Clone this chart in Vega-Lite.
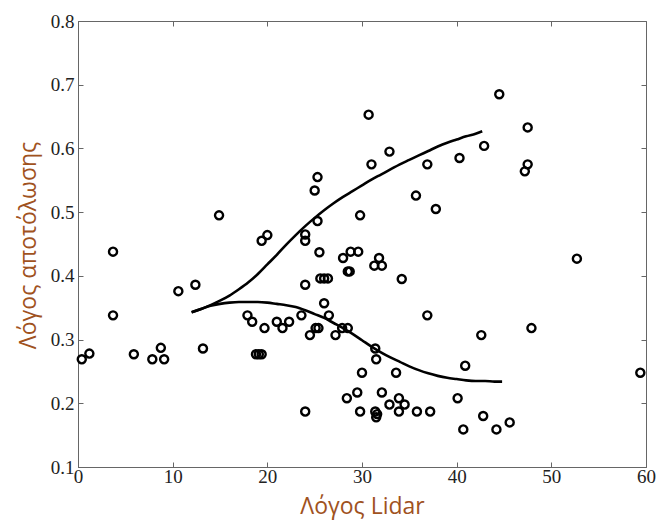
{
  "$schema": "https://vega.github.io/schema/vega-lite/v6.json",
  "autosize": "none",
  "width": 568,
  "height": 446,
  "padding": {"left": 78, "top": 21, "right": 12, "bottom": 54},
  "background": "white",
  "config": {
    "view": {"stroke": "#666", "strokeWidth": 1},
    "axis": {
      "grid": false,
      "domainColor": "#666",
      "tickColor": "#666",
      "labelFont": "Liberation Serif",
      "labelFontSize": 19,
      "labelColor": "#222",
      "titleFont": "Open Sans",
      "titleFontSize": 23,
      "titleFontWeight": "normal",
      "titleColor": "#a0521e"
    }
  },
  "datasets": {
    "pts": [
      {"x": 0.4, "y": 0.269}, {"x": 1.2, "y": 0.278}, {"x": 3.7, "y": 0.438}, {"x": 3.7, "y": 0.338},
      {"x": 5.9, "y": 0.277}, {"x": 7.85, "y": 0.269}, {"x": 8.75, "y": 0.287}, {"x": 9.1, "y": 0.269},
      {"x": 10.6, "y": 0.376}, {"x": 12.4, "y": 0.386}, {"x": 13.2, "y": 0.286}, {"x": 14.9, "y": 0.495},
      {"x": 17.9, "y": 0.338}, {"x": 18.4, "y": 0.328}, {"x": 18.8, "y": 0.277}, {"x": 19.1, "y": 0.277},
      {"x": 19.4, "y": 0.277}, {"x": 19.7, "y": 0.318}, {"x": 19.4, "y": 0.455}, {"x": 20.0, "y": 0.464},
      {"x": 21.0, "y": 0.328}, {"x": 21.6, "y": 0.318}, {"x": 22.3, "y": 0.328}, {"x": 23.6, "y": 0.338},
      {"x": 24.0, "y": 0.386}, {"x": 24.0, "y": 0.187}, {"x": 24.0, "y": 0.455}, {"x": 24.0, "y": 0.465},
      {"x": 24.5, "y": 0.307}, {"x": 25.1, "y": 0.318}, {"x": 25.4, "y": 0.318}, {"x": 25.5, "y": 0.437},
      {"x": 26.0, "y": 0.357}, {"x": 25.6, "y": 0.396}, {"x": 26.0, "y": 0.396}, {"x": 26.4, "y": 0.396},
      {"x": 26.5, "y": 0.338}, {"x": 27.2, "y": 0.307}, {"x": 28.0, "y": 0.428}, {"x": 28.5, "y": 0.407},
      {"x": 28.7, "y": 0.407}, {"x": 27.9, "y": 0.318}, {"x": 28.5, "y": 0.318}, {"x": 28.8, "y": 0.438},
      {"x": 29.6, "y": 0.438}, {"x": 28.4, "y": 0.208}, {"x": 29.5, "y": 0.217}, {"x": 30.0, "y": 0.248},
      {"x": 29.8, "y": 0.187}, {"x": 25.0, "y": 0.534}, {"x": 25.3, "y": 0.555}, {"x": 25.3, "y": 0.486},
      {"x": 29.8, "y": 0.495}, {"x": 30.7, "y": 0.653}, {"x": 31.0, "y": 0.575}, {"x": 32.9, "y": 0.595},
      {"x": 35.7, "y": 0.526}, {"x": 36.9, "y": 0.575}, {"x": 37.8, "y": 0.505}, {"x": 40.3, "y": 0.585},
      {"x": 42.9, "y": 0.604}, {"x": 44.5, "y": 0.685}, {"x": 47.5, "y": 0.633}, {"x": 47.5, "y": 0.575},
      {"x": 47.2, "y": 0.564}, {"x": 31.8, "y": 0.428}, {"x": 31.3, "y": 0.416}, {"x": 32.1, "y": 0.416},
      {"x": 34.2, "y": 0.395}, {"x": 36.9, "y": 0.338}, {"x": 42.6, "y": 0.307}, {"x": 47.9, "y": 0.318},
      {"x": 52.7, "y": 0.427}, {"x": 59.4, "y": 0.248}, {"x": 31.4, "y": 0.286}, {"x": 31.5, "y": 0.269},
      {"x": 33.6, "y": 0.248}, {"x": 40.9, "y": 0.259}, {"x": 32.1, "y": 0.217}, {"x": 32.9, "y": 0.198},
      {"x": 33.9, "y": 0.208}, {"x": 34.5, "y": 0.198}, {"x": 33.9, "y": 0.187}, {"x": 31.4, "y": 0.187},
      {"x": 31.5, "y": 0.178}, {"x": 31.6, "y": 0.183}, {"x": 35.8, "y": 0.187}, {"x": 37.2, "y": 0.187},
      {"x": 40.1, "y": 0.208}, {"x": 40.7, "y": 0.159}, {"x": 42.8, "y": 0.180}, {"x": 44.2, "y": 0.159},
      {"x": 45.6, "y": 0.170}
    ],
    "curves": [
      {"c": "up", "x": 12, "y": 0.343}, {"c": "up", "x": 13, "y": 0.348}, {"c": "up", "x": 14, "y": 0.354},
      {"c": "up", "x": 15, "y": 0.361}, {"c": "up", "x": 16, "y": 0.369}, {"c": "up", "x": 17, "y": 0.379},
      {"c": "up", "x": 18, "y": 0.390}, {"c": "up", "x": 19, "y": 0.403}, {"c": "up", "x": 20, "y": 0.418},
      {"c": "up", "x": 21, "y": 0.433}, {"c": "up", "x": 22, "y": 0.449}, {"c": "up", "x": 23, "y": 0.464},
      {"c": "up", "x": 24, "y": 0.478}, {"c": "up", "x": 25, "y": 0.491}, {"c": "up", "x": 26, "y": 0.503},
      {"c": "up", "x": 27, "y": 0.514}, {"c": "up", "x": 28, "y": 0.524}, {"c": "up", "x": 29, "y": 0.533},
      {"c": "up", "x": 30, "y": 0.542}, {"c": "up", "x": 31, "y": 0.551}, {"c": "up", "x": 32, "y": 0.559},
      {"c": "up", "x": 33, "y": 0.567}, {"c": "up", "x": 34, "y": 0.575}, {"c": "up", "x": 35, "y": 0.582},
      {"c": "up", "x": 36, "y": 0.589}, {"c": "up", "x": 37, "y": 0.596}, {"c": "up", "x": 38, "y": 0.603},
      {"c": "up", "x": 39, "y": 0.609}, {"c": "up", "x": 40, "y": 0.614}, {"c": "up", "x": 41, "y": 0.619},
      {"c": "up", "x": 42, "y": 0.623}, {"c": "up", "x": 42.7, "y": 0.627},
      {"c": "lo", "x": 12, "y": 0.343}, {"c": "lo", "x": 13, "y": 0.348}, {"c": "lo", "x": 14, "y": 0.353},
      {"c": "lo", "x": 15, "y": 0.356}, {"c": "lo", "x": 16, "y": 0.358}, {"c": "lo", "x": 17, "y": 0.359},
      {"c": "lo", "x": 18, "y": 0.359}, {"c": "lo", "x": 19, "y": 0.359}, {"c": "lo", "x": 20, "y": 0.358},
      {"c": "lo", "x": 21, "y": 0.356}, {"c": "lo", "x": 22, "y": 0.354}, {"c": "lo", "x": 23, "y": 0.351},
      {"c": "lo", "x": 24, "y": 0.346}, {"c": "lo", "x": 25, "y": 0.340}, {"c": "lo", "x": 26, "y": 0.334},
      {"c": "lo", "x": 27, "y": 0.326}, {"c": "lo", "x": 28, "y": 0.318}, {"c": "lo", "x": 29, "y": 0.309},
      {"c": "lo", "x": 30, "y": 0.299}, {"c": "lo", "x": 31, "y": 0.289}, {"c": "lo", "x": 32, "y": 0.280},
      {"c": "lo", "x": 33, "y": 0.272}, {"c": "lo", "x": 34, "y": 0.265}, {"c": "lo", "x": 35, "y": 0.258},
      {"c": "lo", "x": 36, "y": 0.252}, {"c": "lo", "x": 37, "y": 0.247}, {"c": "lo", "x": 38, "y": 0.243},
      {"c": "lo", "x": 39, "y": 0.240}, {"c": "lo", "x": 40, "y": 0.238}, {"c": "lo", "x": 41, "y": 0.236},
      {"c": "lo", "x": 42, "y": 0.235}, {"c": "lo", "x": 43, "y": 0.235}, {"c": "lo", "x": 44, "y": 0.234},
      {"c": "lo", "x": 44.8, "y": 0.234}
    ]
  },
  "layer": [
    {
      "data": {"name": "pts"},
      "mark": {"type": "point", "shape": "circle", "filled": false, "stroke": "black", "strokeWidth": 2.4, "size": 65, "opacity": 1},
      "encoding": {
        "x": {"field": "x", "type": "quantitative", "scale": {"domain": [0, 60], "nice": false, "zero": false},
          "axis": {"orient": "bottom", "values": [0, 10, 20, 30, 40, 50, 60], "tickSize": -5, "labelPadding": 5, "title": "Λόγος Lidar", "titleY": 46, "titleBaseline": "alphabetic", "labelFlush": false}},
        "y": {"field": "y", "type": "quantitative", "scale": {"domain": [0.1, 0.8], "nice": false, "zero": false},
          "axis": {"orient": "left", "values": [0.1, 0.2, 0.3, 0.4, 0.5, 0.6, 0.7, 0.8], "format": ".1f", "tickSize": -5, "labelPadding": 9, "title": "Λόγος αποτόλωσης", "titleX": -43, "titleY": 224, "titleAngle": -90, "titleBaseline": "alphabetic", "titleAlign": "center", "labelFlush": false}}
      }
    },
    {
      "data": {"name": "curves"},
      "mark": {"type": "line", "color": "black", "strokeWidth": 2.6, "interpolate": "monotone"},
      "encoding": {
        "x": {"field": "x", "type": "quantitative",
          "axis": {"orient": "top", "values": [0, 10, 20, 30, 40, 50, 60], "tickSize": -5, "labels": false, "title": null, "domain": false}},
        "y": {"field": "y", "type": "quantitative",
          "axis": {"orient": "right", "values": [0.1, 0.2, 0.3, 0.4, 0.5, 0.6, 0.7, 0.8], "tickSize": -5, "labels": false, "title": null, "domain": false}},
        "detail": {"field": "c"}
      }
    }
  ]
}
